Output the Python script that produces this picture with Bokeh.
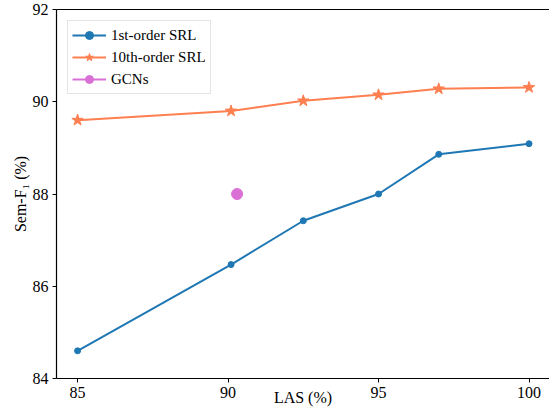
from bokeh.plotting import figure
from bokeh.models import Range1d, LinearAxis, FixedTicker, Legend, LegendItem
from bokeh.embed import file_html
from bokeh.resources import INLINE

# data
las_1st = [85, 90.1, 92.5, 95, 97, 100]
f1_1st = [84.6, 86.47, 87.42, 88.0, 88.86, 89.09]
las_10th = [85, 90.1, 92.5, 95, 97, 100]
f1_10th = [89.6, 89.8, 90.02, 90.15, 90.28, 90.31]
las_gcn = [90.3]
f1_gcn = [88.0]
x_ticks = [85, 90, 95, 100]
y_ticks = [84, 86, 88, 90, 92]

FONT = "Liberation Serif"
BLUE = "#1f77b4"
ORANGE = "#ff7f50"
ORCHID = "#da70d6"

p = figure(width=549, height=408, output_backend="svg", toolbar_location=None,
           x_range=Range1d(84.3, 100.68), y_range=Range1d(84, 92),
           min_border_left=56, min_border_right=0, min_border_top=9, min_border_bottom=0)
p.outline_line_color = None
p.grid.visible = False
p.background_fill_color = "white"

for ax in [p.xaxis[0], p.yaxis[0]]:
    ax.major_label_text_font = FONT
    ax.major_label_text_font_size = "16px"
    ax.axis_label_text_font = FONT
    ax.axis_label_text_font_size = "16px"
    ax.axis_label_text_font_style = "normal"
    ax.major_tick_in = 0
    ax.major_tick_out = 4
    ax.minor_tick_in = 0
    ax.minor_tick_out = 0
    ax.axis_line_color = "black"
    ax.axis_line_width = 1.2
    ax.major_tick_line_color = "black"
    ax.major_label_text_color = "black"
    ax.axis_label_text_color = "black"

p.xaxis.ticker = FixedTicker(ticks=x_ticks)
p.yaxis.ticker = FixedTicker(ticks=y_ticks)
p.xaxis.axis_label = "LAS (%)"
p.yaxis.axis_label = "Sem-F\u2081 (%)"
p.xaxis.major_label_standoff = 4
p.xaxis.axis_label_standoff = -12
p.yaxis.major_label_standoff = 4
p.yaxis.axis_label_standoff = 1

top = LinearAxis(ticker=FixedTicker(ticks=[]), major_label_text_font_size="0px",
                 axis_line_color="black", axis_line_width=1.2,
                 major_tick_line_color=None, minor_tick_line_color=None)
p.add_layout(top, "above")

l1 = p.line(las_1st, f1_1st, line_color=BLUE, line_width=2)
m1 = p.scatter(las_1st, f1_1st, marker="circle", size=6, fill_color=BLUE, line_color=BLUE)
l2 = p.line(las_10th, f1_10th, line_color=ORANGE, line_width=2)
m2 = p.scatter(las_10th, f1_10th, marker="star", size=12, fill_color=ORANGE, line_color=ORANGE)
l3 = p.line(las_gcn, f1_gcn, line_color=ORCHID, line_width=2)
m3 = p.scatter(las_gcn, f1_gcn, marker="circle", size=11, fill_color=ORCHID, line_color=ORCHID)

legend = Legend(items=[
    LegendItem(label="1st-order SRL", renderers=[l1, m1]),
    LegendItem(label="10th-order SRL", renderers=[l2, m2]),
    LegendItem(label="GCNs", renderers=[l3, m3]),
], location="top_left")
legend.label_text_font = FONT
legend.label_text_font_size = "15px"
legend.label_text_color = "black"
legend.border_line_color = "#cccccc"
legend.border_line_width = 1
legend.background_fill_alpha = 0.8
legend.margin = 11
legend.padding = 4
legend.spacing = 2
legend.glyph_width = 34
legend.glyph_height = 20
legend.label_standoff = 5
legend.label_height = 20
p.add_layout(legend, "center")

open("out.html", "w").write(file_html(p, INLINE))
